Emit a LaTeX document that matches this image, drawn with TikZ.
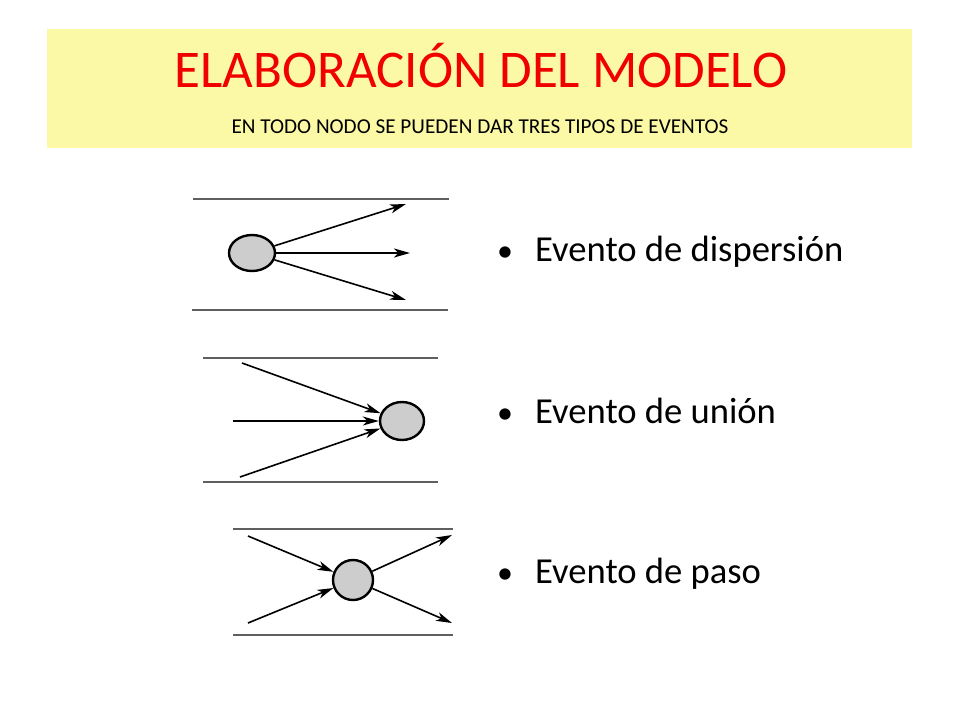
\documentclass[tikz,border=0pt]{standalone}
\usepackage{fontspec}
\setmainfont{Carlito}
\usetikzlibrary{arrows.meta,shapes.geometric}
\definecolor{hdr}{RGB}{251,249,165}
\definecolor{ttl}{RGB}{240,0,0}
\definecolor{rule}{RGB}{95,95,95}
\definecolor{ballfill}{RGB}{205,205,205}
\tikzset{
  guide/.style={draw=rule,line width=1.6pt},
  ball/.style={draw=black,line width=2.4pt,fill=ballfill,inner sep=0pt,ellipse},
  flow/.style={draw=black,line width=1.6pt,-{Stealth[length=16pt,width=9pt,inset=4.5pt]}},
  bullettext/.style={anchor=base west,inner sep=0pt,font=\fontsize{36.6}{44}\selectfont},
  bulletdot/.style={anchor=base,inner sep=0pt,font=\fontsize{32}{40}\selectfont},
}
\begin{document}
\begin{tikzpicture}[x=1pt,y=-1pt]
\useasboundingbox (0,0) rectangle (960,720);
\fill[white] (0,0) rectangle (960,720);
% header
\node[fill=hdr,minimum width=865pt,minimum height=119pt,inner sep=0pt,anchor=north west] (header) at (47,29) {};
\node[anchor=base,inner sep=0pt,text=ttl,font=\fontsize{53}{60}\selectfont] (title) at (481,87) {ELABORACIÓN DEL MODELO};
\node[anchor=base,inner sep=0pt,font=\fontsize{21.2}{25}\selectfont] (subtitle) at (480,133) {EN TODO NODO SE PUEDEN DAR TRES TIPOS DE EVENTOS};

% diagram 1: dispersion
\coordinate (d1a) at (193,199); \coordinate (d1b) at (449,199);
\coordinate (d1c) at (192,310); \coordinate (d1d) at (448,310);
\draw[guide] (d1a) -- (d1b);
\draw[guide] (d1c) -- (d1d);
\node[ball,minimum width=46pt,minimum height=36pt] (e1) at (252,253) {};
\coordinate (t1a) at (406,204);
\coordinate (t1b) at (410,253);
\coordinate (t1c) at (406,300);
\draw[flow] (e1) -- (t1a);
\draw[flow] (e1.east) -- (t1b);
\draw[flow] (e1) -- (t1c);

% diagram 2: union
\coordinate (d2a) at (203,358); \coordinate (d2b) at (438,358);
\coordinate (d2c) at (203,482); \coordinate (d2d) at (438,482);
\draw[guide] (d2a) -- (d2b);
\draw[guide] (d2c) -- (d2d);
\node[ball,minimum width=44pt,minimum height=38pt] (e2) at (402,421) {};
\coordinate (s2a) at (242,363);
\coordinate (s2b) at (233,421);
\coordinate (s2c) at (240,477);
\draw[flow] (s2a) -- (e2);
\draw[flow] (s2b) -- (e2.west);
\draw[flow] (s2c) -- (e2);

% diagram 3: paso
\coordinate (d3a) at (233,529); \coordinate (d3b) at (453,529);
\coordinate (d3c) at (233,635); \coordinate (d3d) at (453,635);
\draw[guide] (d3a) -- (d3b);
\draw[guide] (d3c) -- (d3d);
\node[ball,minimum width=40pt,minimum height=40pt] (e3) at (353,580) {};
\coordinate (s3a) at (248,536);
\coordinate (s3b) at (248,623);
\coordinate (t3a) at (452,535);
\coordinate (t3b) at (452,623);
\draw[flow] (s3a) -- (e3);
\draw[flow] (s3b) -- (e3);
\draw[flow] (e3) -- (t3a);
\draw[flow] (e3) -- (t3b);

% bullets
\node[bulletdot] (b1) at (505,261) {•};
\node[bullettext] (l1) at (535,261) {Evento de dispersión};
\node[bulletdot] (b2) at (505,423) {•};
\node[bullettext] (l2) at (535,423) {Evento de unión};
\node[bulletdot] (b3) at (505,583) {•};
\node[bullettext] (l3) at (535,583) {Evento de paso};
\end{tikzpicture}
\end{document}
